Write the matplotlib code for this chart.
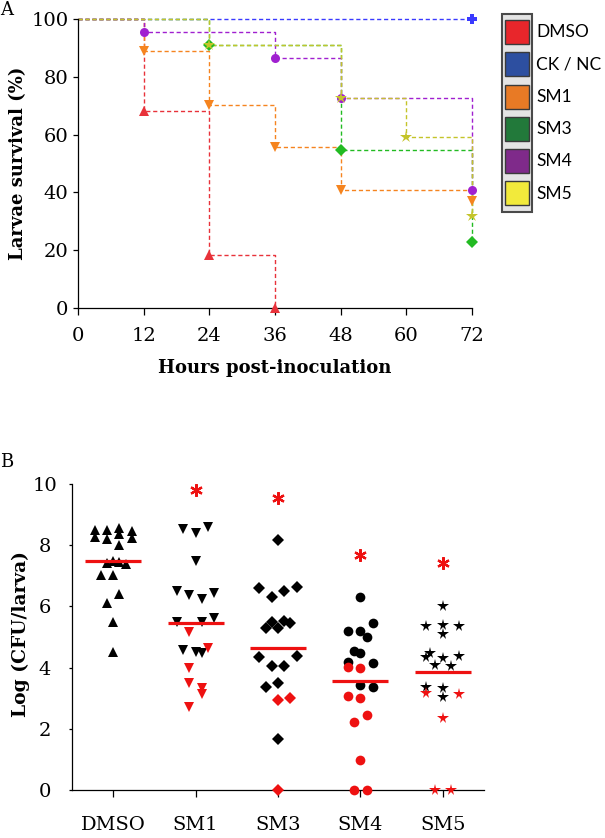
import matplotlib
matplotlib.use("Agg")
import matplotlib.pyplot as plt
from matplotlib.patches import Rectangle

SERIF = "DejaVu Serif"

# ---- panel A: survival curves (hours, % survival) ----
groups_a = ["DMSO", "CK / NC", "SM1", "SM3", "SM4", "SM5"]
hours_dmso = [0, 12, 24, 36]
surv_dmso = [100, 68.2, 18.2, 0]
hours_ck = [0, 72]
surv_ck = [100, 100]
hours_sm1 = [0, 12, 24, 36, 48, 72]
surv_sm1 = [100, 88.9, 70.4, 55.6, 40.7, 37.0]
hours_sm3 = [0, 24, 48, 72]
surv_sm3 = [100, 90.9, 54.5, 22.7]
hours_sm4 = [0, 12, 36, 48, 72]
surv_sm4 = [100, 95.5, 86.4, 72.7, 40.9]
hours_sm5 = [0, 24, 48, 60, 72]
surv_sm5 = [100, 90.9, 72.7, 59.1, 31.8]

line_colors = ["#e8323a", "#3a3aff", "#f5841f", "#22bb22", "#a020d0", "#c4c42a"]
marker_styles = ["^", "P", "v", "D", "o", "*"]
legend_colors = ["#e8262b", "#2d4fa0", "#e87a25", "#22793a", "#7f2a8a", "#f2ea3b"]

# ---- panel B: log CFU per larva ----
groups_b = ["DMSO", "SM1", "SM3", "SM4", "SM5"]
dmso_vals = [8.50, 8.28, 8.50, 8.20, 8.55, 8.35, 8.45, 8.22, 8.00, 7.43, 7.48,
             7.45, 7.40, 7.03, 7.03, 6.40, 6.12, 5.50, 4.52]
dmso_dx = [-0.225, -0.225, -0.075, -0.075, 0.075, 0.075, 0.225, 0.225, 0.075,
           -0.075, 0, 0.075, 0.15, -0.15, 0, 0.075, -0.075, 0, 0]
dmso_red = [0] * 19

sm1_vals = [8.52, 8.39, 8.59, 7.49, 6.51, 6.37, 6.23, 6.43, 5.50, 5.50, 5.63,
            4.58, 4.52, 4.47, 5.17, 4.63, 4.00, 3.49, 3.32, 3.14, 2.72]
sm1_dx = [-0.15, 0, 0.15, 0, -0.225, -0.075, 0.075, 0.225, -0.225, 0.075, 0.225,
          -0.15, 0, 0.075, -0.075, 0.15, -0.075, -0.075, 0.075, 0.075, -0.075]
sm1_red = [0] * 14 + [1] * 7

sm3_vals = [8.17, 6.61, 6.30, 6.50, 6.64, 5.50, 5.28, 5.28, 5.53, 5.47, 4.36,
            4.05, 4.05, 4.39, 3.51, 3.36, 1.67, 2.94, 3.00, 0.0]
sm3_dx = [0, -0.225, -0.075, 0.075, 0.225, -0.075, -0.15, 0, 0.075, 0.15, -0.225,
          -0.075, 0.075, 0.225, 0, -0.15, 0, 0, 0.15, 0]
sm3_red = [0] * 17 + [1] * 3

sm4_vals = [6.32, 5.47, 5.21, 5.20, 4.99, 4.55, 4.47, 4.19, 4.14, 3.43, 3.36,
            4.03, 4.00, 3.07, 3.00, 2.45, 2.21, 0.98, 0.0, 0.0]
sm4_dx = [0, 0.15, -0.15, 0, 0.075, -0.075, 0, -0.15, 0.15, 0, 0.15,
          -0.15, 0, -0.15, 0, 0.075, -0.075, 0, -0.075, 0.075]
sm4_red = [0] * 11 + [1] * 9

sm5_vals = [6.02, 5.37, 5.39, 5.36, 5.09, 4.36, 4.47, 4.08, 4.30, 4.06, 4.39,
            3.38, 3.32, 3.03, 3.16, 3.13, 2.34, 0.0, 0.0]
sm5_dx = [0, -0.2, 0, 0.2, 0, -0.2, -0.15, -0.1, 0, 0.1, 0.2,
          -0.2, 0, 0, -0.2, 0.2, 0, -0.1, 0.1]
sm5_red = [0] * 14 + [1] * 5

means_b = [7.49, 5.47, 4.63, 3.57, 3.85]
star_y = [None, 9.8, 9.53, 7.68, 7.41]
markers_b = ["^", "v", "D", "o", "*"]
msize_b = [7, 7, 6, 7, 8.5]

fig = plt.figure(figsize=(6.05, 8.38), dpi=100)

# ---------------- panel A ----------------
ax = fig.add_axes([78 / 605, 1 - 308 / 838, 394 / 605, 289 / 838])
series = [(hours_dmso, surv_dmso), (hours_ck, surv_ck), (hours_sm1, surv_sm1),
          (hours_sm3, surv_sm3), (hours_sm4, surv_sm4), (hours_sm5, surv_sm5)]
for (h, s), c in zip(series, line_colors):
    ax.step(h, s, where="post", color=c, lw=1.0, dashes=(3, 2), clip_on=False)
for (h, s), c, m in zip(series, line_colors, marker_styles):
    ms = 9 if m == "*" else (7.5 if m == "P" else 6.5)
    ax.plot(h[1:], s[1:], ls="none", marker=m, color=c, ms=ms, mew=0,
            clip_on=False, zorder=3)

ax.set_xlim(0, 72)
ax.set_ylim(0, 100)
ax.set_xticks(range(0, 73, 12))
ax.set_yticks(range(0, 101, 20))
for sp in ["top", "right"]:
    ax.spines[sp].set_visible(False)
for sp in ["left", "bottom"]:
    ax.spines[sp].set_linewidth(0.9)
ax.tick_params(axis="y", direction="out", length=3.5, width=0.9, pad=3.5,
               labelsize=14)
ax.tick_params(axis="x", direction="out", length=5, width=0.9, pad=9,
               labelsize=14)
for lab in ax.get_xticklabels() + ax.get_yticklabels():
    lab.set_family(SERIF)
ax.set_ylabel("Larvae survival (%)", family=SERIF, fontweight="bold", fontsize=13)
ax.yaxis.set_label_coords(-0.128, 0.5)
ax.set_xlabel("Hours post-inoculation", family=SERIF, fontweight="bold",
              fontsize=13)
ax.xaxis.set_label_coords(0.5, -0.175)

fig.text(0.0, 1 - 10 / 838, "A", family=SERIF, fontsize=13, va="center",
         ha="left")

# legend: framed colour boxes, names to the right of the frame
W, H = 605, 838
fig.add_artist(Rectangle((502 / W, 1 - 212 / H), 30 / W, 198 / H,
                         transform=fig.transFigure, facecolor="#e4e4e4",
                         edgecolor="#4a4a4a", lw=1.5))
for i, (name, c) in enumerate(zip(groups_a, legend_colors)):
    yc = 32 + 32.3 * i
    fig.add_artist(Rectangle((505 / W, 1 - (yc + 12) / H), 24 / W, 24 / H,
                             transform=fig.transFigure, facecolor=c,
                             edgecolor="#3a3a3a", lw=1.0))
    fig.text(536 / W, 1 - yc / H, name, family="Lato", fontsize=12.5,
             va="center", ha="left")

# ---------------- panel B ----------------
bx = fig.add_axes([72 / 605, 1 - 790 / 838, 412 / 605, 306 / 838])
groups_data = [(dmso_vals, dmso_dx, dmso_red), (sm1_vals, sm1_dx, sm1_red),
               (sm3_vals, sm3_dx, sm3_red), (sm4_vals, sm4_dx, sm4_red),
               (sm5_vals, sm5_dx, sm5_red)]
for i, (vals, dx, red) in enumerate(groups_data):
    for v, d, r in zip(vals, dx, red):
        bx.plot(i + d, v, ls="none", marker=markers_b[i], ms=msize_b[i],
                color="#ee1111" if r else "black", mew=0, clip_on=False,
                zorder=3 if r else 2)
    bx.plot([i - 0.34, i + 0.34], [means_b[i], means_b[i]], color="#ee1111",
            lw=2.3, solid_capstyle="butt", zorder=4)
    if star_y[i] is not None:
        bx.plot(i, star_y[i], ls="none", marker=(6, 2, 0), ms=9, mew=1.6,
                color="#ee1111", clip_on=False)

bx.set_xlim(-0.5, 4.5)
bx.set_ylim(0, 10)
bx.set_xticks(range(len(groups_b)))
bx.set_xticklabels(groups_b)
bx.set_yticks(range(0, 11, 2))
for sp in ["top", "right"]:
    bx.spines[sp].set_visible(False)
for sp in ["left", "bottom"]:
    bx.spines[sp].set_linewidth(0.9)
bx.tick_params(axis="y", direction="out", length=2, width=0.9, pad=17.5,
               labelsize=14)
bx.tick_params(axis="x", direction="out", length=5, width=0.9, pad=14,
               labelsize=14)
for lab in bx.get_yticklabels():
    lab.set_ha("center")
for lab in bx.get_xticklabels() + bx.get_yticklabels():
    lab.set_family(SERIF)
bx.set_ylabel("Log (CFU/larva)", family=SERIF, fontweight="bold", fontsize=13.5)
bx.yaxis.set_label_coords(-0.103, 0.51)

fig.text(0.0, 1 - 462 / 838, "B", family=SERIF, fontsize=13, va="center",
         ha="left")

fig.savefig("out.png", dpi=100)
